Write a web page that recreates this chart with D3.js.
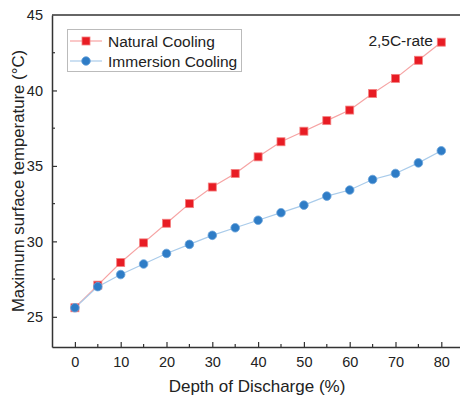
<!DOCTYPE html>
<html>
<head>
<meta charset="utf-8">
<script src="https://cdn.jsdelivr.net/npm/d3@7"></script>
<style>
  html, body { margin: 0; padding: 0; background: #fff; }
  svg { display: block; font-family: "Liberation Sans", Arial, sans-serif; }
</style>
</head>
<body>
<div id="chart"></div>
<script>
// data
const dod = [0, 5, 10, 15, 20, 25, 30, 35, 40, 45, 50, 55, 60, 65, 70, 75, 80];
const naturalCooling = [25.6, 27.1, 28.6, 29.9, 31.2, 32.5, 33.6, 34.5, 35.6, 36.6, 37.3, 38.0, 38.7, 39.8, 40.8, 42.0, 43.2];
const immersionCooling = [25.6, 27.0, 27.8, 28.5, 29.2, 29.8, 30.4, 30.9, 31.4, 31.9, 32.4, 33.0, 33.4, 34.1, 34.5, 35.2, 36.0];
const xTicks = [0, 10, 20, 30, 40, 50, 60, 70, 80];
const xMinor = [5, 15, 25, 35, 45, 55, 65, 75];
const yTicks = [25, 30, 35, 40, 45];
const yMinor = [27.5, 32.5, 37.5, 42.5];

const width = 460, height = 398;
const plotLeft = 52, plotTop = 15, plotBottom = 347;
const axisColor = "#333";
const textColor = "#222";

const x = d3.scaleLinear().domain([-5, 85]).range([plotLeft, plotLeft + 90 * 4.58]);
const y = d3.scaleLinear().domain([23, 45]).range([plotBottom, plotTop]);

const svg = d3.select("#chart").append("svg")
  .attr("width", width)
  .attr("height", height);

// axes with inward ticks
const xAxis = svg.append("g")
  .attr("transform", `translate(0,${plotBottom})`)
  .call(d3.axisBottom(x).tickValues(xTicks).tickSize(-5).tickPadding(10).tickSizeOuter(0));
xAxis.append("g").selectAll("line").data(xMinor).join("line")
  .attr("x1", d => x(d)).attr("x2", d => x(d))
  .attr("y1", 0).attr("y2", -3)
  .attr("stroke", axisColor).attr("stroke-width", 1.2);

const yAxis = svg.append("g")
  .attr("transform", `translate(${plotLeft},0)`)
  .call(d3.axisLeft(y).tickValues(yTicks).tickSize(-5).tickPadding(9).tickSizeOuter(0));
yAxis.append("g").selectAll("line").data(yMinor).join("line")
  .attr("x1", 0).attr("x2", 3)
  .attr("y1", d => y(d)).attr("y2", d => y(d))
  .attr("stroke", axisColor).attr("stroke-width", 1.2);

svg.selectAll(".domain").attr("stroke", axisColor).attr("stroke-width", 1.5);
svg.selectAll(".tick line").attr("stroke", axisColor).attr("stroke-width", 1.2);
svg.selectAll(".tick text").attr("fill", textColor).attr("font-size", 14.5);
yAxis.selectAll(".tick").filter(d => d === 45).select("line").remove();

// top frame line
svg.append("line")
  .attr("x1", plotLeft).attr("x2", width)
  .attr("y1", plotTop).attr("y2", plotTop)
  .attr("stroke", axisColor).attr("stroke-width", 1.5);

// axis titles
svg.append("text")
  .attr("x", 257).attr("y", 392)
  .attr("text-anchor", "middle")
  .attr("font-size", 17)
  .attr("fill", textColor)
  .text("Depth of Discharge (%)");

svg.append("text")
  .attr("transform", `translate(24,181) rotate(-90)`)
  .attr("text-anchor", "middle")
  .attr("font-size", 16.8)
  .attr("fill", textColor)
  .text("Maximum surface temperature (°C)");

// series
const series = [
  { name: "Natural Cooling", values: naturalCooling, line: "#f6a3a3", fill: "#e81c24", stroke: "#f47f7f", shape: "square" },
  { name: "Immersion Cooling", values: immersionCooling, line: "#a9cbea", fill: "#2e7cc6", stroke: "#6aa3da", shape: "circle" }
];

const line = d3.line().x(d => x(d[0])).y(d => y(d[1]));

function drawMarker(g, s, cx, cy) {
  if (s.shape === "square") {
    g.append("rect")
      .attr("x", cx - 4).attr("y", cy - 4)
      .attr("width", 8).attr("height", 8)
      .attr("fill", s.fill).attr("stroke", s.stroke).attr("stroke-width", 0.8);
  } else {
    g.append("circle")
      .attr("cx", cx).attr("cy", cy).attr("r", 4.3)
      .attr("fill", s.fill).attr("stroke", s.stroke).attr("stroke-width", 0.8);
  }
}

series.forEach(s => {
  const pts = dod.map((d, i) => [d, s.values[i]]);
  svg.append("path")
    .datum(pts)
    .attr("d", line)
    .attr("fill", "none")
    .attr("stroke", s.line)
    .attr("stroke-width", 1.2);
});
series.forEach(s => {
  const g = svg.append("g");
  dod.forEach((d, i) => drawMarker(g, s, x(d), y(s.values[i])));
});

// legend
const legend = svg.append("g");
legend.append("rect")
  .attr("x", 67.5).attr("y", 29.5)
  .attr("width", 174).attr("height", 42)
  .attr("fill", "#fff").attr("stroke", "#bbb").attr("stroke-width", 1);
series.forEach((s, i) => {
  const ly = 41 + i * 20;
  legend.append("line")
    .attr("x1", 70).attr("x2", 102)
    .attr("y1", ly).attr("y2", ly)
    .attr("stroke", s.line).attr("stroke-width", 1.2);
  drawMarker(legend, s, 86, ly);
  legend.append("text")
    .attr("x", 108).attr("y", ly + 5.5)
    .attr("font-size", 15.5)
    .attr("fill", textColor)
    .text(s.name);
});

svg.append("text")
  .attr("x", 433).attr("y", 46)
  .attr("text-anchor", "end")
  .attr("font-size", 15.5)
  .attr("fill", textColor)
  .text("2,5C-rate");
</script>
</body>
</html>
